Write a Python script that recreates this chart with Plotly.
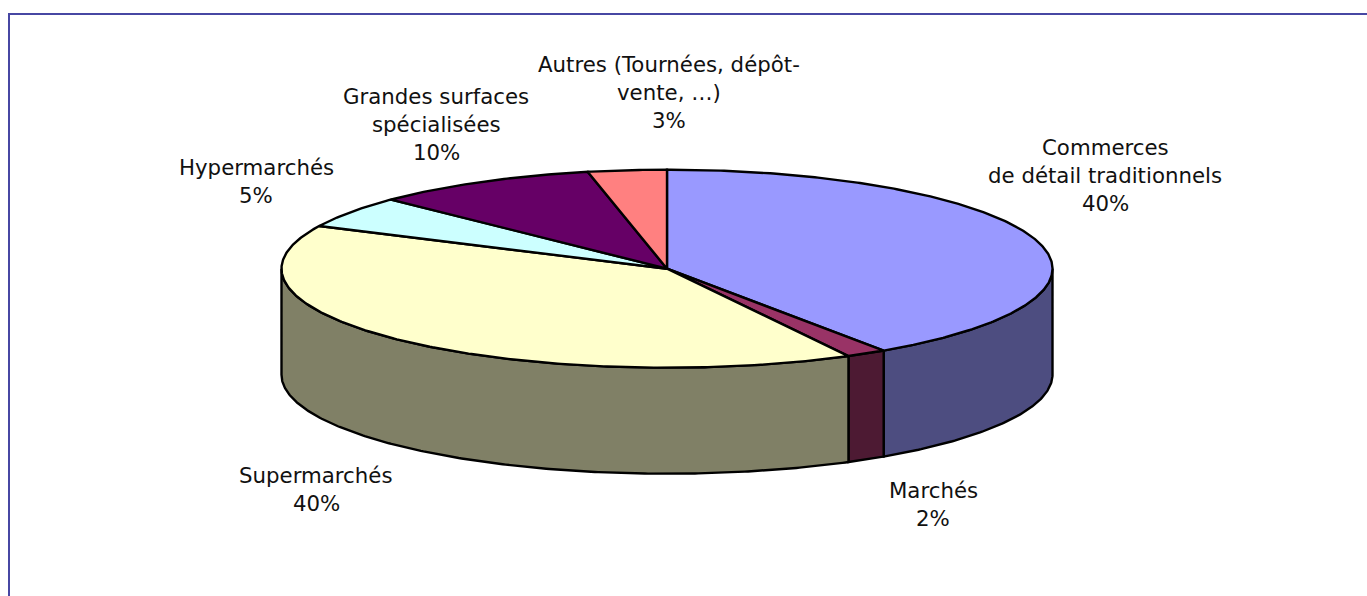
import numpy as np
import plotly.graph_objects as go

categories = ["Commerces de détail traditionnels", "Marchés", "Supermarchés",
              "Hypermarchés", "Grandes surfaces spécialisées", "Autres (Tournées, dépôt-vente, …)"]
values = [40.5, 1.7, 39.9, 5.2, 9.4, 3.3]
percent_labels = ["40%", "2%", "40%", "5%", "10%", "3%"]
top_colors = ["#9999ff", "#993366", "#ffffcc", "#ccffff", "#660066", "#ff8080"]
side_colors = ["#4d4d80", "#4d1a33", "#808066", "#668080", "#330033", "#804040"]
label_lines = [["Commerces", "de détail traditionnels"], ["Marchés"], ["Supermarchés"],
               ["Hypermarchés"], ["Grandes surfaces", "spécialisées"],
               ["Autres (Tournées, dépôt-", "vente, …)"]]
label_x = [1105, 933, 316, 256, 436, 669]
label_y_first = [147, 490, 475, 167, 96, 64]
LINE_GAP = 28

CX, CY, RX, RY, DEPTH = 667, 268.7, 385.5, 99, 106
W, H = 1367, 596


def rim(t0, t1, dy=0, n=None):
    n = n or max(2, int(abs(t1 - t0)) * 2 + 2)
    t = np.radians(np.linspace(t0, t1, n))
    return CX + RX * np.sin(t), CY - RY * np.cos(t) + dy


fig = go.Figure()
edges = np.concatenate([[0], np.cumsum(values)]) / sum(values) * 360

# sides (only the front half of the drum is visible)
for i in range(len(values)):
    a, b = max(edges[i], 90), min(edges[i + 1], 270)
    if a >= b:
        continue
    x1, y1 = rim(a, b)
    x2, y2 = rim(b, a, DEPTH)
    fig.add_trace(go.Scatter(x=np.r_[x1, x2, x1[0]], y=np.r_[y1, y2, y1[0]], mode="lines",
                             fill="toself", fillcolor=side_colors[i],
                             line=dict(color="black", width=2.4), hoverinfo="skip"))

# top faces
for i in range(len(values)):
    x1, y1 = rim(edges[i], edges[i + 1])
    fig.add_trace(go.Scatter(x=np.r_[CX, x1, CX], y=np.r_[CY, y1, CY], mode="lines",
                             fill="toself", fillcolor=top_colors[i],
                             line=dict(color="black", width=2.4), hoverinfo="skip",
                             name=categories[i]))

# labels
for lines, pct, x, y0 in zip(label_lines, percent_labels, label_x, label_y_first):
    for k, s in enumerate(lines + [pct]):
        fig.add_annotation(x=x, y=y0 + k * LINE_GAP, text=s, showarrow=False, xanchor="center",
                           yanchor="middle", font=dict(family="DejaVu Sans", size=21.3, color="#111111"))

fig.update_layout(
    width=W, height=H, margin=dict(l=0, r=0, t=0, b=0), showlegend=False,
    paper_bgcolor="white", plot_bgcolor="white",
    xaxis=dict(range=[0, W], visible=False, fixedrange=True),
    yaxis=dict(range=[H, 0], visible=False, fixedrange=True),
    shapes=[
        dict(type="line", x0=9, x1=9, y0=13, y1=H, line=dict(color="#4747a3", width=2)),
        dict(type="line", x0=8, x1=W, y0=14, y1=14, line=dict(color="#4747a3", width=2)),
    ],
)
fig.write_html("out.html", config={"displayModeBar": False},
               default_width=f"{W}px", default_height=f"{H}px",
               post_script="document.body.style.margin='0';document.documentElement.style.overflow='hidden';")
